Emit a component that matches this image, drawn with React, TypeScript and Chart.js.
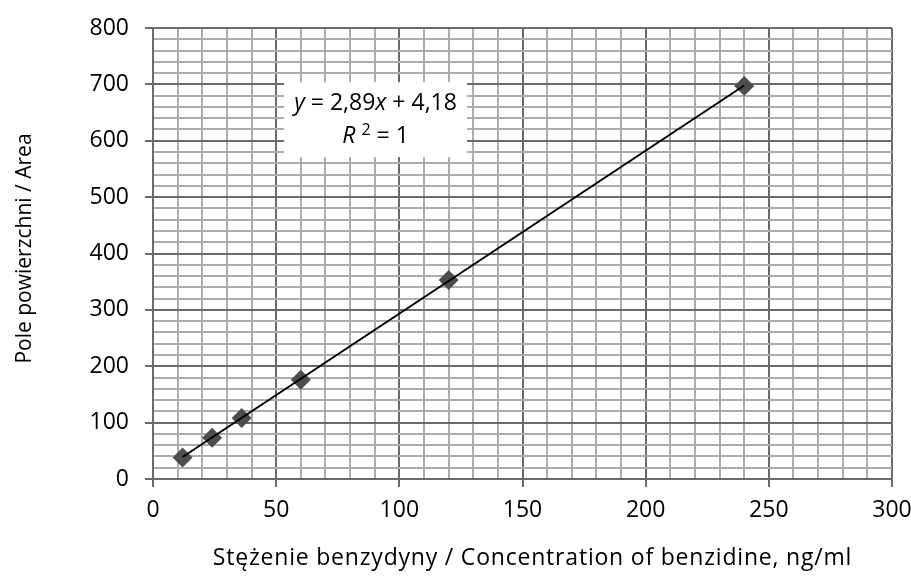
import React, { useEffect, useRef } from 'react';
import { Chart, registerables } from 'chart.js';

Chart.register(...registerables);

// ---- data ----
const CONCENTRATION = [12, 24, 36, 60, 120, 240];
const AREA = [38, 73, 108, 176, 353, 697];
const TREND_X = [12, 240];
const TREND_Y = [39, 698];
const X_LABELS = [0, 50, 100, 150, 200, 250, 300];
const Y_LABELS = [0, 100, 200, 300, 400, 500, 600, 700, 800];
const X_TITLE = 'Stężenie benzydyny / Concentration of benzidine, ng/ml';
const Y_TITLE = 'Pole powierzchni / Area';
const EQ_LINE1 = [
  { text: 'y', italic: true },
  { text: ' = 2,89', italic: false },
  { text: 'x', italic: true },
  { text: ' + 4,18', italic: false },
];
const EQ_R = 'R';
const EQ_SUP = '2';
const EQ_REST = ' = 1';

const FONT = "'Open Sans', sans-serif";
const MAJOR = '#6a6a6a';
const MINOR = '#acacac';

const eqPlugin = {
  id: 'eqBox',
  beforeDatasetsDraw(chart: any) {
    const { ctx, scales } = chart;
    const x = scales.x;
    const y = scales.y;
    const l = x.getPixelForValue(53.2);
    const r = x.getPixelForValue(127.5);
    const t = y.getPixelForValue(704);
    const b = y.getPixelForValue(571);
    ctx.save();
    ctx.fillStyle = '#ffffff';
    ctx.fillRect(l, t, r - l, b - t);
    ctx.fillStyle = '#000000';
    ctx.textBaseline = 'middle';
    ctx.textAlign = 'left';
    const size = 23;
    const cx = (l + r) / 2;
    const h = b - t;
    let total = 0;
    const widths: number[] = [];
    for (const s of EQ_LINE1) {
      ctx.font = `${s.italic ? 'italic ' : ''}${size}px ${FONT}`;
      const w = ctx.measureText(s.text).width;
      widths.push(w);
      total += w;
    }
    let px = cx - total / 2;
    const y1 = t + h * 0.28;
    EQ_LINE1.forEach((s, i) => {
      ctx.font = `${s.italic ? 'italic ' : ''}${size}px ${FONT}`;
      ctx.fillText(s.text, px, y1);
      px += widths[i];
    });
    const y2 = t + h * 0.73;
    ctx.font = `italic ${size}px ${FONT}`;
    const wR = ctx.measureText(EQ_R + ' ').width;
    ctx.font = `${Math.round(size * 0.68)}px ${FONT}`;
    const wS = ctx.measureText(EQ_SUP).width;
    ctx.font = `${size}px ${FONT}`;
    const wE = ctx.measureText(EQ_REST).width;
    let p2 = cx - (wR + wS + wE) / 2;
    ctx.font = `italic ${size}px ${FONT}`;
    ctx.fillText(EQ_R, p2, y2);
    p2 += wR;
    ctx.font = `${Math.round(size * 0.68)}px ${FONT}`;
    ctx.fillText(EQ_SUP, p2, y2 - 6);
    p2 += wS;
    ctx.font = `${size}px ${FONT}`;
    ctx.fillText(EQ_REST, p2, y2);
    ctx.restore();
  },
};

const titlePlugin = {
  id: 'axisTitles',
  afterDraw(chart: any) {
    const { ctx, chartArea } = chart;
    ctx.save();
    ctx.fillStyle = '#000000';
    // x title
    ctx.font = `23px ${FONT}`;
    (ctx as any).letterSpacing = '0.8px';
    ctx.textAlign = 'center';
    ctx.textBaseline = 'alphabetic';
    ctx.fillText(X_TITLE, (chartArea.left + chartArea.right) / 2 + 10, chart.height - 12);
    // y title
    (ctx as any).letterSpacing = '0px';
    ctx.font = `21px ${FONT}`;
    ctx.textBaseline = 'middle';
    ctx.translate(25, (chartArea.top + chartArea.bottom) / 2 - 5);
    ctx.rotate(-Math.PI / 2);
    ctx.fillText(Y_TITLE, 0, 0);
    ctx.restore();
  },
};

export default function App() {
  const ref = useRef<HTMLCanvasElement | null>(null);
  useEffect(() => {
    if (!ref.current) return;
    const isMajorX = (v: number) => X_LABELS.includes(v);
    const isMajorY = (v: number) => Y_LABELS.includes(v);
    const chart = new Chart(ref.current, {
      type: 'scatter',
      data: {
        datasets: [
          {
            type: 'scatter',
            data: CONCENTRATION.map((c, i) => ({ x: c, y: AREA[i] })),
            pointStyle: 'rectRot',
            pointRadius: 10,
            pointBackgroundColor: '#4d4d4d',
            pointBorderColor: '#4d4d4d',
            pointBorderWidth: 0,
            order: 2,
          },
          {
            type: 'line',
            data: TREND_X.map((c, i) => ({ x: c, y: TREND_Y[i] })),
            borderColor: '#000000',
            borderWidth: 2,
            pointRadius: 0,
            fill: false,
            order: 1,
          },
        ],
      },
      options: {
        animation: false,
        responsive: false,
        devicePixelRatio: 1,
        layout: { padding: { top: 28, right: 19, left: 0, bottom: 0 } },
        plugins: { legend: { display: false }, tooltip: { enabled: false } },
        scales: {
          x: {
            type: 'linear',
            min: 0,
            max: 300,
            afterFit: (s: any) => {
              s.height = 98;
              s.paddingRight = 19;
              s.paddingLeft = 0;
            },
            ticks: {
              stepSize: 10,
              autoSkip: false,
              maxRotation: 0,
              padding: 10,
              color: '#000',
              font: { family: FONT, size: 23 },
              callback: (v: any) => (isMajorX(Number(v)) ? String(v) : ''),
            },
            grid: {
              color: (c: any) => (isMajorX(c.tick?.value) ? MAJOR : MINOR),
              tickColor: (c: any) => (isMajorX(c.tick?.value) ? MAJOR : 'rgba(0,0,0,0)'),
              lineWidth: 2,
              tickLength: 8,
              tickWidth: 2,
            },
            border: { color: MAJOR, width: 2 },
            title: { display: false, text: X_TITLE },
          },
          y: {
            type: 'linear',
            min: 0,
            max: 800,
            afterFit: (s: any) => {
              s.width = 153;
              s.paddingTop = 0;
              s.paddingBottom = 0;
            },
            ticks: {
              stepSize: 20,
              autoSkip: false,
              padding: 16,
              color: '#000',
              font: { family: FONT, size: 23 },
              callback: (v: any) => (isMajorY(Number(v)) ? String(v) : ''),
            },
            grid: {
              color: (c: any) => (isMajorY(c.tick?.value) ? MAJOR : MINOR),
              tickColor: (c: any) => (isMajorY(c.tick?.value) ? MAJOR : 'rgba(0,0,0,0)'),
              lineWidth: 2,
              tickLength: 8,
              tickWidth: 2,
            },
            border: { color: MAJOR, width: 2 },
            title: { display: false, text: Y_TITLE },
          },
        },
      },
      plugins: [eqPlugin, titlePlugin],
    } as any);
    return () => chart.destroy();
  }, []);
  return (
    <div style={{ position: 'absolute', left: 0, top: 0, width: 911, height: 577, background: '#fff' }}>
      <canvas ref={ref} width={911} height={577} style={{ display: 'block' }} />
    </div>
  );
}
